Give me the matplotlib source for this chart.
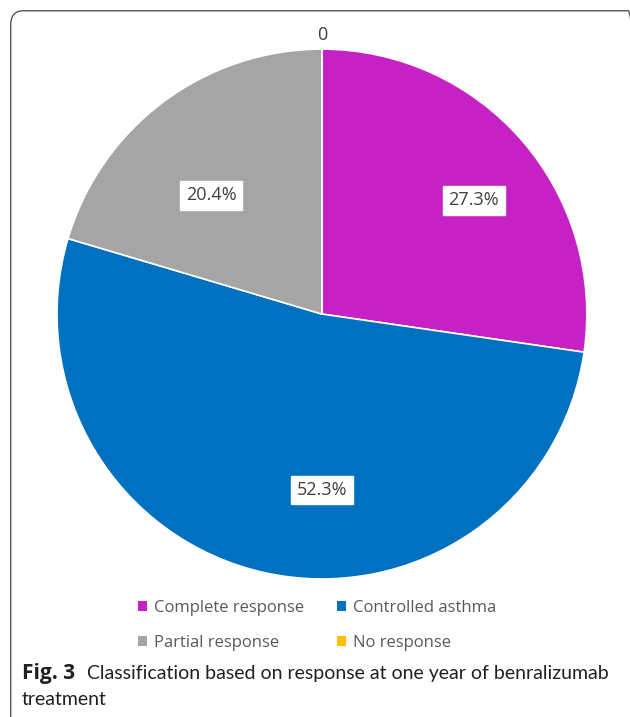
import numpy as np
import matplotlib
matplotlib.use("Agg")
import matplotlib.pyplot as plt
from matplotlib.patches import FancyBboxPatch, Patch

plt.rcParams['font.family'] = ['Open Sans', 'DejaVu Sans']

# data
categories = ['Complete response', 'Controlled asthma', 'Partial response', 'No response']
shares = [27.3, 52.3, 20.4, 0.0]
colors = ['#C521C5', '#0070C0', '#A5A5A5', '#FFC000']

# label placement (radius as fraction of pie radius, angle nudge in degrees)
label_r = [0.717, 0.664, 0.614, 1.053]
label_nudge = [-4.0, 12.4, 6.3, 0.0]

fig = plt.figure(figsize=(6.3, 7.17), dpi=100)

# rounded frame around the figure panel
frame = FancyBboxPatch((0.017, -0.05), 1.0, 1.035, boxstyle='round,pad=0,rounding_size=0.02',
                       transform=fig.transFigure, fill=False, edgecolor='#555555', linewidth=1.0)
fig.patches.append(frame)

ax = fig.add_axes([0.0905, 0.1925, 0.841, 0.739])
wedges, _ = ax.pie(shares, colors=colors, startangle=90, counterclock=False,
                   wedgeprops=dict(edgecolor='white', linewidth=1.2))
ax.set_aspect('equal')
ax.set_xlim(-1, 1)
ax.set_ylim(-1, 1)

# data labels
for w, v, r, dn in zip(wedges, shares, label_r, label_nudge):
    mid = np.deg2rad((w.theta1 + w.theta2) / 2 + dn)
    if v == 0:
        ax.text(r * np.cos(mid), r * np.sin(mid), '0', ha='center', va='center',
                fontsize=13, color='#404040')
    else:
        ax.text(r * np.cos(mid), r * np.sin(mid), f'{v:.1f}%', ha='center', va='center',
                fontsize=13, color='#404040',
                bbox=dict(boxstyle='square,pad=0.3', facecolor='white', edgecolor='white'))

# legend, row order: Complete, Controlled / Partial, No response
handles = [Patch(facecolor=c, edgecolor='none') for c in colors]
order = [0, 2, 1, 3]
fig.legend([handles[i] for i in order], [categories[i] for i in order], ncol=2,
           loc='center', bbox_to_anchor=(0.503, 0.128), frameon=False, fontsize=12,
           labelcolor='#595959', handlelength=0.55, handleheight=0.55, handletextpad=0.4,
           columnspacing=2.0, labelspacing=1.15)

# caption
t1 = fig.text(0.035, 0.053, 'Fig. 3', fontsize=15, fontweight='bold', color='#231F20',
              va='baseline')
fig.canvas.draw()
bb = t1.get_window_extent()
x2 = (bb.x1 + 12) / fig.bbox.width
cap_font = ['Lato', 'DejaVu Sans']
fig.text(x2, 0.053, 'Classification based on response at one year of benralizumab',
         fontsize=14, color='#231F20', family=cap_font, va='baseline')
fig.text(0.035, 0.0167, 'treatment', fontsize=14, color='#231F20', family=cap_font,
         va='baseline')

fig.savefig('out.png', dpi=100, facecolor='white')
